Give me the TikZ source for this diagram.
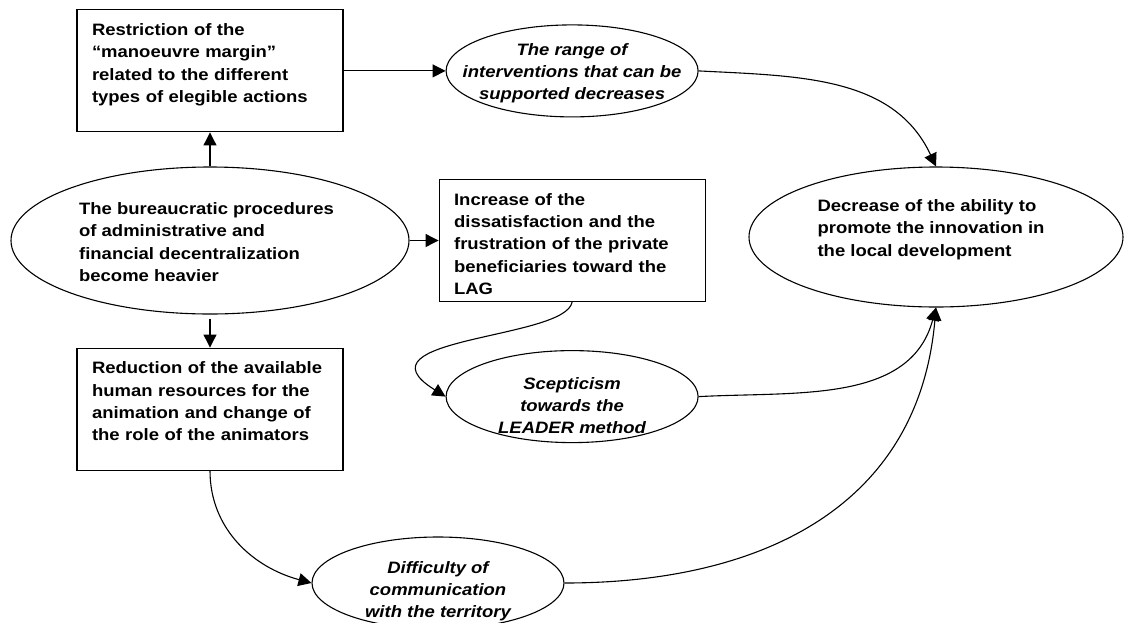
\documentclass[tikz,border=0pt]{standalone}
\usepackage{fontspec}
\setmainfont{Liberation Sans}[FakeStretch=1.12]
\usetikzlibrary{shapes.geometric,positioning,arrows.meta}

\begin{document}
\begin{tikzpicture}[x=1pt,y=-1pt,line width=1.1pt,
    font=\fontsize{16.5}{22.3}\selectfont\bfseries,
    box/.style={draw, rectangle, align=left, text width=236pt, inner xsep=15pt, inner ysep=0pt, text height=25.7pt, text depth=96.3pt},
    oval/.style={draw, ellipse, inner sep=0pt, minimum width=252pt, minimum height=92pt},
    ovaltext/.style={align=center, inner sep=0pt, font=\fontsize{16.5}{22}\selectfont\bfseries\itshape},
    plaintext/.style={align=left, inner sep=0pt},
    link/.style={-{Triangle[length=13pt,width=13pt]}}]

      \useasboundingbox (0,0) rectangle (1125,622);

      \node[oval, minimum width=398pt, minimum height=147pt] (bureau) at (210,240.5) {};
      \node[plaintext] (bureautext) at (206.5,242) {The bureaucratic procedures\\ of administrative and\\ financial decentralization\\ become heavier};

      \node[box, above=34pt of bureau] (restrict) {Restriction of the\\ “manoeuvre margin”\\ related to the different\\ types of elegible actions};
      \node[box, right=29pt of bureau] (increase) {Increase of the\\ dissatisfaction and the\\ frustration of the private\\ beneficiaries toward the\\ LAG};
      \node[box, below=33pt of bureau] (reduce) {Reduction of the available\\ human resources for the\\ animation and change of\\ the role of the animators};

      \node[oval, right=102pt of restrict] (range) {};
      \node[ovaltext] (rangetext) at ([yshift=-2pt]range.center) {The range of\\ interventions that can be\\ supported decreases};

      \node[oval, below=48pt of increase] (scept) {};
      \node[ovaltext] (sctext) at ([yshift=-9pt]scept.center) {Scepticism\\ towards the\\ LEADER method};

      \node[oval] (diffic) at (438,583) {};
      \node[ovaltext] (difftext) at ([yshift=-8pt]diffic.center) {Difficulty of\\ communication\\ with the territory};

      \node[oval, minimum width=374pt, minimum height=140pt] (decrease) at (936,237) {};
      \node[plaintext] (dectext) at (931,229.5) {Decrease of the ability to\\ promote the innovation in\\ the local development};

      \path[link]
      (restrict) edge (range)
      (bureau.north) edge (restrict.south)
      (bureau.south) edge[shorten <=4pt] (reduce.north)
      (bureau.east) edge (increase.west)
      (range.east) edge[out=-3, in=115] (decrease.north)
      (increase.south) edge[out=-100, in=148, out distance=38pt, in distance=112pt] (scept.west)
      (reduce.south) edge[out=-90, in=165] (diffic.west)
      (scept.east) edge[out=3, in=-105] (decrease.south)
      (diffic.east) edge[out=0, in=-95, looseness=1.1] (decrease.south)
      ;
\end{tikzpicture}
\end{document}
